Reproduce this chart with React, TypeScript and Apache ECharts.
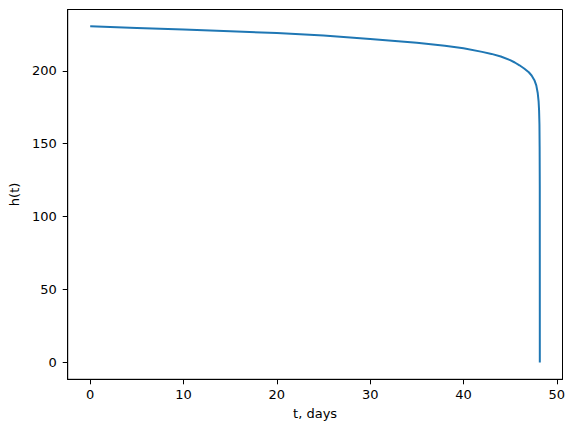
import React, { useEffect, useRef } from "react";
import * as echarts from "echarts";

const tDays = [0, 5, 10, 15, 20, 25, 30, 35, 38, 40, 42, 43, 44, 45, 45.5, 46, 46.5, 47, 47.3, 47.6, 47.8, 47.95, 48.05, 48.1, 48.14, 48.16, 48.175, 48.18];
const hValues = [230.5, 229.4, 228.3, 227.1, 225.9, 224.3, 221.9, 219.2, 217.2, 215.5, 213.0, 211.6, 209.8, 207.3, 205.7, 203.8, 201.6, 199.0, 196.8, 193.6, 190.0, 185.0, 179.0, 173.0, 163.0, 148.0, 120.0, 0];
const xTicks = [0, 10, 20, 30, 40, 50];
const yTicks = [0, 50, 100, 150, 200];

export default function App() {
  const ref = useRef<HTMLDivElement>(null);
  useEffect(() => {
    if (!ref.current) return;
    const chart = echarts.init(ref.current, undefined, { renderer: "svg" });
    const font = "DejaVu Sans";
    chart.setOption({
      animation: false,
      backgroundColor: "#ffffff",
      grid: { left: 66.5, right: 11.5, top: 9.5, bottom: 52.7, show: true, borderColor: "#000", borderWidth: 1, backgroundColor: "transparent" },
      xAxis: {
        type: "value",
        min: -2.41,
        max: 50.61,
        name: "t, days",
        nameLocation: "middle",
        nameGap: 28,
        nameTextStyle: { color: "#000", fontFamily: font, fontSize: 13 },
        axisLine: { show: true, onZero: false, lineStyle: { color: "#000", width: 1 } },
        axisTick: { show: true, inside: false, length: 5, customValues: xTicks, lineStyle: { color: "#000", width: 1 } },
        axisLabel: { customValues: xTicks, color: "#000", fontFamily: font, fontSize: 13, margin: 9 },
        splitLine: { show: false },
      },
      yAxis: {
        type: "value",
        min: -11.53,
        max: 242.05,
        name: "h(t)",
        nameLocation: "middle",
        nameGap: 46,
        nameTextStyle: { color: "#000", fontFamily: font, fontSize: 13 },
        axisLine: { show: true, onZero: false, lineStyle: { color: "#000", width: 1 } },
        axisTick: { show: true, inside: false, length: 5, customValues: yTicks, lineStyle: { color: "#000", width: 1 } },
        axisLabel: { customValues: yTicks, color: "#000", fontFamily: font, fontSize: 13, margin: 11 },
        splitLine: { show: false },
      },
      series: [
        {
          type: "line",
          data: tDays.map((t, i) => [t, hValues[i]]),
          showSymbol: false,
          smooth: false,
          lineStyle: { color: "#1f77b4", width: 2 },
          itemStyle: { color: "#1f77b4" },
        },
      ],
    });
    return () => chart.dispose();
  }, []);
  return <div ref={ref} style={{ position: "fixed", left: 0, top: 0, width: 574, height: 432 }} />;
}
